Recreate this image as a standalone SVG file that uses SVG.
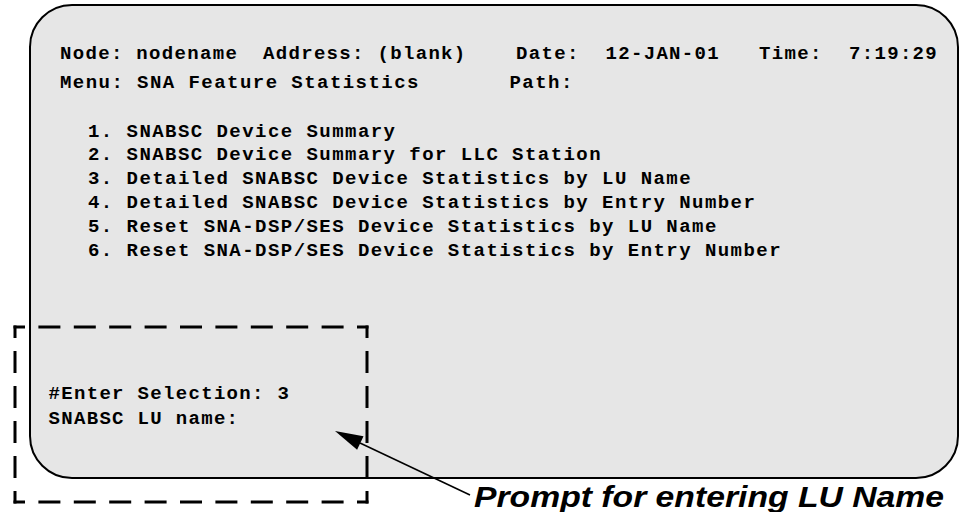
<svg xmlns="http://www.w3.org/2000/svg" width="960" height="512" viewBox="0 0 960 512">
  <style>
    .mono { font-family: "Liberation Mono", "Courier New", monospace; font-weight: bold; font-size: 19px; fill: #000; }
    .l1 { letter-spacing: 1.32px; }
    .l2 { letter-spacing: 1.45px; }
    .note { font-family: "Liberation Sans", Arial, sans-serif; font-weight: bold; font-style: italic; font-size: 29px; fill: #000; }
    .dash { stroke: #000; stroke-width: 3; fill: none; }
  </style>
  <rect width="960" height="512" fill="#ffffff"/>
  <g id="screen">
    <rect x="30" y="5" width="928" height="473" rx="42" ry="42" fill="#e6e6e6" stroke="#000" stroke-width="2"/>
  </g>
  <g id="highlight">
    <line class="dash" x1="13.5" y1="327" x2="368.5" y2="327" stroke-dasharray="22 13.4" stroke-dashoffset="10.5"/>
    <line class="dash" x1="13.5" y1="502" x2="368.5" y2="502" stroke-dasharray="22 13.4" stroke-dashoffset="10.5"/>
    <line class="dash" x1="15" y1="325.5" x2="15" y2="503.5" stroke-dasharray="22 13" stroke-dashoffset="9.5"/>
    <line class="dash" x1="367" y1="325.5" x2="367" y2="503.5" stroke-dasharray="22 13" stroke-dashoffset="9.5"/>
  </g>
  <g id="header">
    <text class="mono l1" x="60" y="58.5">Node: nodename</text>
    <text class="mono l1" x="263" y="58.5">Address: (blank)</text>
    <text class="mono l1" x="516" y="58.5">Date:</text>
    <text class="mono l1" x="605.5" y="58.5">12-JAN-01</text>
    <text class="mono l1" x="759" y="58.5">Time:</text>
    <text class="mono l1" x="849" y="58.5">7:19:29</text>
    <text class="mono l2" x="60" y="88">Menu: SNA Feature Statistics</text>
    <text class="mono l2" x="509.5" y="88">Path:</text>
  </g>
  <g id="menu">
    <text class="mono l2" x="88" y="136.5">1. SNABSC Device Summary</text>
    <text class="mono l2" x="88" y="160.4">2. SNABSC Device Summary for LLC Station</text>
    <text class="mono l2" x="88" y="184.2">3. Detailed SNABSC Device Statistics by LU Name</text>
    <text class="mono l2" x="88" y="208.1">4. Detailed SNABSC Device Statistics by Entry Number</text>
    <text class="mono l2" x="88" y="231.9">5. Reset SNA-DSP/SES Device Statistics by LU Name</text>
    <text class="mono l2" x="88" y="255.8">6. Reset SNA-DSP/SES Device Statistics by Entry Number</text>
  </g>
  <g id="prompt">
    <text class="mono l1" x="48.5" y="399">#Enter Selection: 3</text>
    <text class="mono l1" x="48.5" y="424">SNABSC LU name:</text>
  </g>
  <g id="connectors">
    <line x1="470" y1="495" x2="360" y2="443" stroke="#000" stroke-width="1.5"/>
    <polygon points="335,431 363.5,436.2 357.1,449.8" fill="#000"/>
  </g>
  <g id="callout">
    <text class="note" x="474" y="507" textLength="470" lengthAdjust="spacingAndGlyphs">Prompt for entering LU Name</text>
  </g>
</svg>
